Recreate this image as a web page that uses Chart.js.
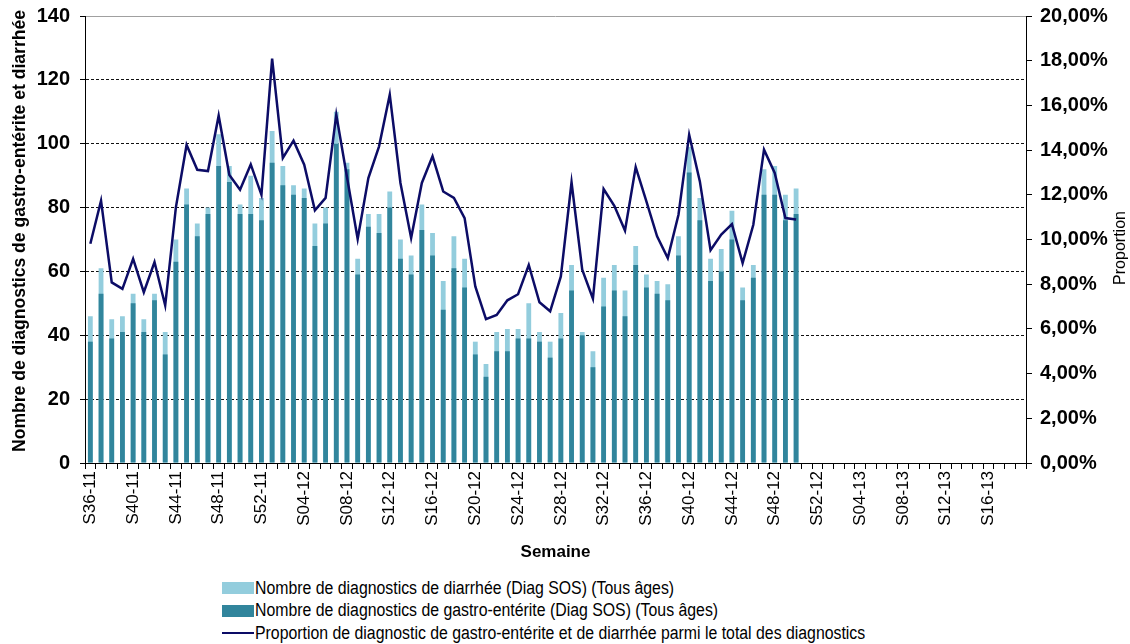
<!DOCTYPE html>
<html>
<head>
<meta charset="utf-8">
<script src="https://cdn.jsdelivr.net/npm/chart.js@4.4.1/dist/chart.umd.min.js"></script>
<style>
  body { margin: 0; background: #fff; }
  .wrap { position: relative; width: 1130px; height: 644px; }
  .chart-box { position: absolute; left: 0; top: 0; width: 1130px; height: 568px; }
  .legend { position: absolute; left: 222px; top: 577px; font-family: "Liberation Sans", sans-serif; font-size: 18px; color: #000; }
  .legend div { height: 22.5px; display: flex; align-items: center; white-space: nowrap; }
  .legend .txt { display: inline-block; transform: scaleX(0.88); transform-origin: left center; }
  .legend .sw { display: inline-block; width: 32px; height: 12px; margin-right: 1px; flex: none; }
  .legend .ln { display: inline-block; width: 32px; height: 2px; margin-right: 1px; background: #0c0c66; flex: none; }
</style>
</head>
<body>
<div class="wrap">
  <div class="chart-box"><canvas id="chart"></canvas></div>
  <div class="legend">
    <div><span class="sw" style="background:#93cddd"></span><span class="txt">Nombre de diagnostics de diarrhée (Diag SOS) (Tous âges)</span></div>
    <div><span class="sw" style="background:#31859c"></span><span class="txt">Nombre de diagnostics de gastro-entérite (Diag SOS) (Tous âges)</span></div>
    <div><span class="ln"></span><span class="txt">Proportion de diagnostic de gastro-entérite et de diarrhée parmi le total des diagnostics</span></div>
  </div>
</div>
<script>
const weeks = [
  'S36-11','S37-11','S38-11','S39-11','S40-11','S41-11','S42-11','S43-11','S44-11','S45-11','S46-11','S47-11',
  'S48-11','S49-11','S50-11','S51-11','S52-11',
  'S01-12','S02-12','S03-12','S04-12','S05-12','S06-12','S07-12','S08-12','S09-12','S10-12','S11-12','S12-12',
  'S13-12','S14-12','S15-12','S16-12','S17-12','S18-12','S19-12','S20-12','S21-12','S22-12','S23-12','S24-12',
  'S25-12','S26-12','S27-12','S28-12','S29-12','S30-12','S31-12','S32-12','S33-12','S34-12','S35-12','S36-12',
  'S37-12','S38-12','S39-12','S40-12','S41-12','S42-12','S43-12','S44-12','S45-12','S46-12','S47-12','S48-12',
  'S49-12','S50-12','S51-12','S52-12',
  'S01-13','S02-13','S03-13','S04-13','S05-13','S06-13','S07-13','S08-13','S09-13','S10-13','S11-13','S12-13',
  'S13-13','S14-13','S15-13','S16-13','S17-13','S18-13','S19-13'
];

// diarrhée (light bars), S36-11 .. S50-12
const diarrhee = [
  46, 61, 45, 46, 53, 45, 53, 41, 70, 86, 75, 80, 103, 93, 81, 90, 83,
  104, 93, 87, 86, 75, 80, 110, 94, 64, 78, 78, 85, 70, 65, 81, 72, 57,
  71, 64, 38, 31, 41, 42, 42, 50, 41, 38, 47, 62, 41, 35, 58, 62, 54,
  68, 59, 57, 56, 71, 99, 83, 64, 67, 79, 55, 62, 92, 93, 84, 86
];

// gastro-entérite (dark bars)
const gastro = [
  38, 53, 39, 41, 50, 41, 51, 34, 63, 81, 71, 78, 93, 88, 78, 78, 76,
  94, 87, 84, 83, 68, 75, 100, 92, 59, 74, 72, 80, 64, 59, 73, 65, 48,
  61, 55, 34, 27, 35, 35, 39, 39, 38, 33, 39, 54, 40, 30, 49, 54, 46,
  62, 55, 53, 51, 65, 91, 76, 57, 60, 70, 51, 58, 84, 84, 76, 78
];

// proportion, in %
const proportion = [
  9.81, 11.74, 8.08, 7.79, 9.13, 7.64, 8.99, 7.05, 11.44, 14.23, 13.12, 13.06, 15.54, 12.89, 12.23, 13.36, 12.0,
  18.09, 13.65, 14.42, 13.35, 11.31, 11.86, 15.59, 12.8, 10.02, 12.75, 14.17, 16.48, 12.53, 10.07, 12.53, 13.72, 12.15,
  11.86, 10.96, 7.90, 6.44, 6.62, 7.28, 7.55, 8.86, 7.19, 6.79, 8.35, 12.56, 8.65, 7.35, 12.26, 11.51, 10.40,
  13.24, 11.71, 10.14, 9.17, 11.11, 14.69, 12.60, 9.52, 10.22, 10.69, 8.95, 10.66, 14.02, 12.98, 10.96, 10.89
];

const leftTicks = [0, 20, 40, 60, 80, 100, 120, 140];
const rightTicks = [0, 2, 4, 6, 8, 10, 12, 14, 16, 18, 20];

const fillNulls = arr => weeks.map((w, i) => (i < arr.length ? arr[i] : null));

// axis titles that read bottom-to-top, drawn condensed like the original
const sideTitles = {
  id: 'sideTitles',
  afterDraw(chart) {
    const ctx = chart.ctx;
    ctx.save();
    ctx.fillStyle = '#000';
    ctx.textAlign = 'center';
    ctx.textBaseline = 'middle';

    ctx.save();
    ctx.translate(20, 231);
    ctx.rotate(-Math.PI / 2);
    ctx.font = 'bold 19px "Liberation Sans"';
    ctx.fillText('Nombre de diagnostics de gastro-entérite et diarrhée', 0, 0, 442);
    ctx.restore();

    ctx.save();
    ctx.translate(1120, 248);
    ctx.rotate(-Math.PI / 2);
    ctx.font = '17px "Liberation Sans"';
    ctx.fillText('Proportion', 0, 0, 74);
    ctx.restore();

    ctx.restore();
  }
};

const ctx = document.getElementById('chart').getContext('2d');
new Chart(ctx, {
  type: 'bar',
  data: {
    labels: weeks,
    datasets: [
      {
        label: 'Nombre de diagnostics de diarrhée (Diag SOS) (Tous âges)',
        data: fillNulls(diarrhee),
        backgroundColor: '#93cddd',
        categoryPercentage: 1,
        barPercentage: 0.45,
        yAxisID: 'y',
        order: 3
      },
      {
        label: 'Nombre de diagnostics de gastro-entérite (Diag SOS) (Tous âges)',
        data: fillNulls(gastro),
        backgroundColor: '#31859c',
        categoryPercentage: 1,
        barPercentage: 0.45,
        yAxisID: 'y',
        order: 2
      },
      {
        type: 'line',
        label: 'Proportion de diagnostic de gastro-entérite et de diarrhée parmi le total des diagnostics',
        data: fillNulls(proportion),
        borderColor: '#0c0c66',
        borderWidth: 2.5,
        pointRadius: 0,
        tension: 0,
        yAxisID: 'y1',
        order: 1
      }
    ]
  },
  options: {
    responsive: true,
    maintainAspectRatio: false,
    animation: false,
    layout: { padding: { top: 16, right: 0, left: 0, bottom: 0 } },
    plugins: {
      legend: { display: false },
      tooltip: { enabled: false }
    },
    scales: {
      x: {
        stacked: true,
        afterFit: s => { s.height = 105; s.paddingLeft = 0; s.paddingRight = 0; },
        grid: { drawOnChartArea: false, offset: true, tickLength: 6, tickColor: '#000' },
        border: { color: '#000', width: 1 },
        ticks: {
          autoSkip: false,
          minRotation: 90,
          maxRotation: 90,
          padding: 2,
          color: '#000',
          font: { family: 'Liberation Sans', size: 17 },
          callback: (v, i) => (i % 4 === 0 ? weeks[i] : '')
        },
        title: {
          display: true,
          text: 'Semaine',
          color: '#000',
          font: { family: 'Liberation Sans', size: 17, weight: 'bold' },
          padding: { top: 0, bottom: 5 }
        }
      },
      y: {
        position: 'left',
        min: leftTicks[0],
        max: leftTicks[leftTicks.length - 1],
        afterFit: s => { s.width = 85; s.paddingTop = 0; s.paddingBottom = 0; },
        afterBuildTicks: s => { s.ticks = leftTicks.map(v => ({ value: v })); },
        grid: {
          color: c => (c.tick && (c.tick.value === 0 || c.tick.value === 140) ? 'rgba(0,0,0,0)' : '#111'),
          tickColor: '#000',
          tickLength: 5,
          lineWidth: 1
        },
        border: { color: '#000', width: 1, dash: [3, 2] },
        ticks: {
          padding: 10,
          color: '#000',
          font: { family: 'Liberation Sans', size: 20, weight: 'bold' }
        }
      },
      y1: {
        position: 'right',
        min: rightTicks[0],
        max: rightTicks[rightTicks.length - 1],
        afterFit: s => { s.width = 104; s.paddingTop = 0; s.paddingBottom = 0; },
        afterBuildTicks: s => { s.ticks = rightTicks.map(v => ({ value: v })); },
        grid: {
          color: c => (c.tick && c.tick.value === 20 ? '#a0a0a0' : 'rgba(0,0,0,0)'),
          tickColor: '#000',
          tickLength: 6,
          lineWidth: 1
        },
        border: { color: '#000', width: 1 },
        ticks: {
          padding: 8,
          color: '#000',
          font: { family: 'Liberation Sans', size: 20, weight: 'bold' },
          callback: v => v.toFixed(2).replace('.', ',') + '%'
        }
      }
    }
  },
  plugins: [sideTitles]
});
</script>
</body>
</html>
